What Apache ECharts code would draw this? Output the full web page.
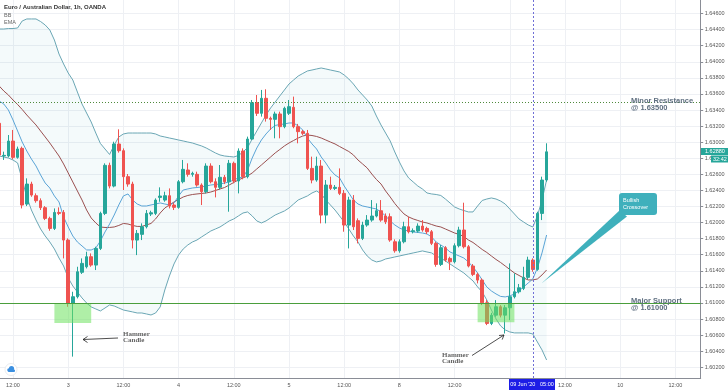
<!DOCTYPE html>
<html><head><meta charset="utf-8">
<script src="https://cdn.jsdelivr.net/npm/echarts/dist/echarts.min.js"></script>
<style>html,body{margin:0;padding:0;background:#fff}#c{width:728px;height:391px}</style>
</head><body><div id="c"></div>
<script>
// ---- data (hourly candles, EUR/AUD, OANDA) ----
const open = [
1.63235,1.62828,1.62828,1.63014,1.62811,1.62923,1.62230,1.62479,1.62334,1.62272,
1.62185,1.62052,1.61927,1.62126,1.62126,1.61782,1.60994,1.61077,1.61381,1.61450,
1.61575,1.61471,1.61678,1.62114,1.62712,1.62454,1.62977,1.62894,1.62571,1.62479,
1.61782,1.61853,1.61948,1.62106,1.62114,1.62313,1.62280,1.62334,1.62218,1.62189,
1.62508,1.62654,1.62600,1.62600,1.62467,1.62384,1.62703,1.62508,1.62438,1.62563,
1.62508,1.62737,1.62517,1.62890,1.62571,1.63039,1.63492,1.63359,1.63546,1.63297,
1.63284,1.63351,1.63193,1.63359,1.63434,1.63193,1.63131,1.63110,1.62674,1.62529,
1.62703,1.62093,1.62467,1.62425,1.62438,1.62363,1.61969,1.62280,1.62023,1.61803,
1.61969,1.62031,1.62081,1.62147,1.62081,1.62073,1.61761,1.61649,1.61761,1.61948,
1.61886,1.61894,1.61956,1.61927,1.61886,1.61741,1.61479,1.61687,1.61554,1.61512,
1.61712,1.61907,1.61699,1.61459,1.61355,1.61284,1.61002,1.60745,1.60848,1.60952,
1.60848,1.60940,1.61077,1.61139,1.61181,1.61318,1.61533,1.61417,1.62114,1.62529];
const close = [
1.62840,1.62836,1.63014,1.62811,1.62915,1.62218,1.62479,1.62342,1.62272,1.62185,
1.62052,1.61927,1.62126,1.62114,1.61782,1.60994,1.61077,1.61388,1.61492,1.61575,
1.61471,1.61678,1.62114,1.62712,1.62454,1.62977,1.62894,1.62571,1.62479,1.61782,
1.61865,1.61948,1.62114,1.62122,1.62280,1.62330,1.62334,1.62205,1.62189,1.62508,
1.62662,1.62600,1.62612,1.62467,1.62384,1.62703,1.62508,1.62438,1.62563,1.62508,
1.62737,1.62517,1.62890,1.62571,1.63039,1.63492,1.63359,1.63546,1.63297,1.63284,
1.63351,1.63193,1.63421,1.63442,1.63193,1.63131,1.63110,1.62674,1.62529,1.62703,
1.62093,1.62467,1.62425,1.62438,1.62363,1.61969,1.62280,1.61948,1.61803,1.61969,
1.62031,1.62081,1.62147,1.62031,1.62010,1.61782,1.61649,1.61761,1.61948,1.61886,
1.61899,1.61956,1.61907,1.61886,1.61741,1.61479,1.61687,1.61533,1.61512,1.61712,
1.61907,1.61699,1.61459,1.61355,1.61284,1.61002,1.60745,1.60848,1.60952,1.60848,
1.60940,1.61077,1.61139,1.61189,1.61318,1.61533,1.61417,1.62114,1.62529,1.62880];
const low = [
1.62811,1.62779,1.62811,1.62787,1.62795,1.62176,1.62205,1.62321,1.62247,1.62156,
1.62031,1.61898,1.61907,1.62093,1.61554,1.60952,1.60332,1.61056,1.61360,1.61429,
1.61450,1.61409,1.61658,1.62093,1.62425,1.62438,1.62870,1.62405,1.62446,1.61678,
1.61595,1.61782,1.61927,1.62081,1.62093,1.62259,1.62259,1.62176,1.62156,1.62172,
1.62488,1.62571,1.62571,1.62446,1.62218,1.62363,1.62488,1.62313,1.62413,1.62479,
1.62135,1.62488,1.62363,1.62538,1.62550,1.63027,1.63326,1.63318,1.63256,1.63152,
1.63048,1.63048,1.63173,1.63338,1.63173,1.62986,1.63089,1.62654,1.62488,1.62508,
1.61990,1.61990,1.62405,1.62405,1.62342,1.61886,1.61678,1.61907,1.61741,1.61782,
1.61948,1.62010,1.62064,1.62010,1.61981,1.61761,1.61625,1.61625,1.61741,1.61865,
1.61865,1.61874,1.61886,1.61857,1.61720,1.61450,1.61459,1.61512,1.61409,1.61492,
1.61691,1.61678,1.61442,1.61334,1.61243,1.60973,1.60724,1.60724,1.60828,1.60820,
1.60620,1.60786,1.61056,1.61118,1.61160,1.61293,1.61388,1.61400,1.62031,1.62508];
const high = [
1.63318,1.62882,1.63089,1.63152,1.62945,1.62945,1.62550,1.62508,1.62363,1.62301,
1.62205,1.62073,1.62176,1.62189,1.62156,1.61803,1.61139,1.61450,1.61554,1.61637,
1.61616,1.61699,1.62135,1.62737,1.62745,1.63006,1.63160,1.62923,1.62604,1.62508,
1.61907,1.61990,1.62156,1.62147,1.62301,1.62438,1.62384,1.62425,1.62247,1.62529,
1.62779,1.62737,1.62633,1.62633,1.62488,1.62737,1.62737,1.62550,1.62716,1.62592,
1.62779,1.62758,1.62923,1.62923,1.63069,1.63525,1.63587,1.63650,1.63658,1.63318,
1.63380,1.63380,1.63442,1.63525,1.63567,1.63227,1.63152,1.63152,1.62820,1.62820,
1.62778,1.62529,1.62571,1.62467,1.62674,1.62405,1.62321,1.62342,1.62052,1.62010,
1.62093,1.62280,1.62239,1.62280,1.62114,1.62114,1.61791,1.61791,1.62010,1.62073,
1.61927,1.61990,1.62031,1.61948,1.61907,1.61761,1.61720,1.61707,1.61575,1.61741,
1.61948,1.62247,1.61720,1.61484,1.61376,1.61305,1.61035,1.60877,1.61035,1.60973,
1.60973,1.61492,1.61368,1.61236,1.61450,1.61575,1.61554,1.62135,1.62571,1.62986];
const bbUpper = [
1.64408,1.64408,1.64414,1.64414,1.64421,1.64508,1.64533,1.64533,1.64533,1.64501,
1.64458,1.64396,1.64271,1.64097,1.63973,1.63861,1.63774,1.63624,1.63475,1.63363,
1.63251,1.63114,1.62984,1.62915,1.62847,1.62965,1.63065,1.63102,1.63114,1.63114,
1.63114,1.63114,1.63114,1.63114,1.63102,1.63077,1.63065,1.63052,1.63040,1.63027,
1.63015,1.63002,1.62990,1.62971,1.62953,1.62928,1.62897,1.62866,1.62841,1.62828,
1.62822,1.62816,1.62834,1.62878,1.62934,1.63040,1.63139,1.63239,1.63338,1.63425,
1.63500,1.63575,1.63649,1.63724,1.63774,1.63823,1.63855,1.63886,1.63898,1.63911,
1.63923,1.63911,1.63898,1.63886,1.63873,1.63836,1.63786,1.63724,1.63649,1.63587,
1.63525,1.63450,1.63326,1.63214,1.63114,1.63015,1.62878,1.62754,1.62642,1.62555,
1.62505,1.62455,1.62418,1.62368,1.62356,1.62349,1.62337,1.62293,1.62244,1.62194,
1.62169,1.62150,1.62132,1.62132,1.62206,1.62275,1.62293,1.62306,1.62293,1.62268,
1.62231,1.62169,1.62107,1.62045,1.62007,1.61970,1.61945,1.62082,1.62281,1.62530];
const bbLower = [
1.62828,1.62816,1.62803,1.62778,1.62741,1.62530,1.62318,1.62156,1.62032,1.61920,
1.61833,1.61758,1.61671,1.61559,1.61460,1.61311,1.61211,1.61136,1.61062,1.60999,
1.60950,1.60925,1.60900,1.60937,1.60975,1.60962,1.60937,1.60912,1.60900,1.60888,
1.60875,1.60875,1.60863,1.60850,1.60875,1.60950,1.61161,1.61335,1.61485,1.61597,
1.61671,1.61721,1.61758,1.61783,1.61821,1.61858,1.61895,1.61920,1.61945,1.61982,
1.62020,1.62045,1.62082,1.62119,1.62132,1.62082,1.62020,1.61995,1.62020,1.62057,
1.62094,1.62119,1.62144,1.62181,1.62231,1.62281,1.62306,1.62331,1.62368,1.62393,
1.62356,1.62281,1.62219,1.62156,1.62082,1.62007,1.61920,1.61833,1.61758,1.61659,
1.61584,1.61534,1.61510,1.61522,1.61547,1.61559,1.61572,1.61584,1.61597,1.61609,
1.61622,1.61634,1.61647,1.61634,1.61622,1.61584,1.61559,1.61522,1.61485,1.61447,
1.61410,1.61373,1.61323,1.61274,1.61199,1.61136,1.61037,1.60912,1.60801,1.60714,
1.60664,1.60639,1.60627,1.60627,1.60627,1.60627,1.60614,1.60514,1.60415,1.60290];
const bbBasis = [
1.63699,1.63637,1.63587,1.63525,1.63469,1.63407,1.63338,1.63276,1.63214,1.63139,
1.63065,1.62990,1.62909,1.62828,1.62729,1.62617,1.62505,1.62393,1.62281,1.62156,
1.62057,1.61995,1.61945,1.61939,1.61939,1.61945,1.61964,1.61989,1.61982,1.61964,
1.61952,1.61952,1.61970,1.61989,1.62045,1.62119,1.62181,1.62219,1.62256,1.62287,
1.62318,1.62337,1.62349,1.62356,1.62362,1.62368,1.62380,1.62399,1.62418,1.62436,
1.62467,1.62499,1.62530,1.62555,1.62580,1.62617,1.62667,1.62716,1.62766,1.62816,
1.62866,1.62909,1.62953,1.62990,1.63021,1.63052,1.63077,1.63089,1.63083,1.63071,
1.63052,1.63027,1.63002,1.62978,1.62946,1.62915,1.62884,1.62841,1.62778,1.62729,
1.62679,1.62604,1.62536,1.62480,1.62393,1.62318,1.62237,1.62169,1.62107,1.62070,
1.62045,1.62026,1.62007,1.61995,1.61976,1.61957,1.61945,1.61920,1.61895,1.61870,
1.61852,1.61827,1.61783,1.61752,1.61709,1.61665,1.61628,1.61584,1.61541,1.61503,
1.61460,1.61416,1.61373,1.61342,1.61311,1.61286,1.61286,1.61298,1.61348,1.61410];
const ema = [
1.63512,1.63475,1.63400,1.63276,1.63139,1.63002,1.62890,1.62791,1.62704,1.62592,
1.62492,1.62430,1.62331,1.62256,1.62069,1.61945,1.61833,1.61758,1.61709,1.61659,
1.61659,1.61684,1.61771,1.61883,1.61982,1.62094,1.62219,1.62331,1.62356,1.62281,
1.62231,1.62206,1.62206,1.62219,1.62231,1.62244,1.62231,1.62219,1.62244,1.62331,
1.62405,1.62418,1.62430,1.62436,1.62443,1.62455,1.62467,1.62474,1.62480,1.62492,
1.62505,1.62530,1.62555,1.62567,1.62654,1.62803,1.62928,1.63027,1.63102,1.63164,
1.63208,1.63220,1.63226,1.63239,1.63239,1.63201,1.63152,1.63052,1.62978,1.62915,
1.62816,1.62741,1.62654,1.62592,1.62555,1.62455,1.62368,1.62281,1.62231,1.62206,
1.62194,1.62181,1.62169,1.62132,1.62082,1.62020,1.61970,1.61933,1.61908,1.61895,
1.61883,1.61877,1.61870,1.61858,1.61821,1.61758,1.61721,1.61684,1.61634,1.61609,
1.61584,1.61559,1.61510,1.61447,1.61373,1.61286,1.61199,1.61149,1.61112,1.61081,
1.61075,1.61087,1.61112,1.61149,1.61199,1.61248,1.61298,1.61435,1.61622,1.61845];

const yTicks = [1.602,1.604,1.606,1.608,1.610,1.612,1.614,1.616,1.618,1.620,1.622,1.624,1.626,1.628,1.630,1.632,1.634,1.636,1.638,1.640,1.642,1.644,1.646];
const xTickLabels = {3:'12:00',15:'3',27:'12:00',39:'4',51:'12:00',63:'5',75:'12:00',87:'8',99:'12:00',123:'12:00',135:'10',147:'12:00'};
const xGridIdx = [3,15,27,39,51,63,75,87,99,111,123,135,147];
const minorResistance = 1.635;
const majorSupport = 1.610;
const hammerBoxes = [[12,20,1.6100,1.6075],[104,112,1.6100,1.6076]]; // [fromIdx,toIdx,top,bottom]
const crossIdx = 116;
const yMin = 1.60066, yMax = 1.64769;
const lastPrice = '1.62880', timer = '32:42';

// categories: hourly bars from 2 Jun 2020 09:00 (weekend gap skipped)
const cats = [];
const t0 = Date.UTC(2020,5,2,9);
for (let j=0;j<153;j++){ const h = j<=83 ? j : j+48; cats.push(new Date(t0+h*3600e3).toISOString().slice(5,16).replace('T',' ')); }
const candles = open.map((o,k)=>[o, close[k], low[k], high[k]]);
const bandWidth = bbUpper.map((u,k)=>+(u-bbLower[k]).toFixed(5));

const UP='#26a69a', DOWN='#ef5350', BAND='#6aa6b4';
const chart = echarts.init(document.getElementById('c'), null, {renderer:'canvas'});
const FF = 'Liberation Sans, Arial, sans-serif';
chart.setOption({
  animation:false,
  backgroundColor:'#ffffff',
  textStyle:{fontFamily:FF},
  grid:{left:-3.1, right:27.3, top:0, bottom:13, outerBoundsMode:'none'},
  xAxis:{type:'category', data:cats, boundaryGap:true,
    axisLine:{show:true, lineStyle:{color:'#8a8d96', width:1}},
    axisTick:{show:false},
    axisLabel:{interval:(idx)=>!!xTickLabels[idx], formatter:(v,idx)=>xTickLabels[idx]||'', color:'#555', fontSize:5.5, margin:4},
    splitLine:{show:false}},
  yAxis:{type:'value', position:'right', min:yMin, max:yMax,
    axisLine:{show:true, lineStyle:{color:'#8a8d96'}},
    axisTick:{show:true, length:2.5, customValues:yTicks, lineStyle:{color:'#8a8d96'}},
    axisLabel:{customValues:yTicks, formatter:v=>v.toFixed(5), color:'#555', fontSize:5.5, margin:4},
    splitLine:{show:true, lineStyle:{color:'#eef0f4'}}},
  series:[
    {type:'line', name:'bbLower', data:bbLower, stack:'bb', symbol:'none', z:1,
      lineStyle:{color:BAND, width:1},
      markLine:{silent:true, symbol:'none', z:0, label:{show:false}, lineStyle:{color:'#eef0f4', type:'solid', width:1},
        data:xGridIdx.map(j=>({xAxis:cats[j]}))}},
    {type:'line', name:'bbFill', data:bandWidth, stack:'bb', symbol:'none', z:1,
      lineStyle:{color:BAND, width:1}, areaStyle:{color:'rgba(60,160,180,0.08)'}},
    {type:'line', name:'basis', data:bbBasis, symbol:'none', z:2, lineStyle:{color:'#9a5050', width:1}},
    {type:'line', name:'ema', data:ema, symbol:'none', z:2, lineStyle:{color:'#5aa4d6', width:1}},
    {type:'candlestick', name:'EURAUD', data:candles, barWidth:3, z:3,
      itemStyle:{color:UP, color0:DOWN, borderColor:UP, borderColor0:DOWN, borderColorDoji:UP, borderWidth:1},
      markArea:{silent:true, z:10, itemStyle:{color:'rgba(110,225,95,0.55)'},
        data:hammerBoxes.map(b=>[{xAxis:cats[b[0]], yAxis:b[2]},{xAxis:cats[b[1]], yAxis:b[3]}])}}
  ]
});

// annotation layer, anchored to the chart's own scales
const yRes = chart.convertToPixel({yAxisIndex:0}, minorResistance);
const ySup = chart.convertToPixel({yAxisIndex:0}, majorSupport);
const xCross = chart.convertToPixel({xAxisIndex:0}, cats[crossIdx]);
const plotRight = chart.convertToPixel({xAxisIndex:0}, cats[cats.length-1]) + 2.3;
const plotBottom = chart.convertToPixel({yAxisIndex:0}, yMin);
chart.setOption({graphic:{elements:[
    {type:'line', z:30, shape:{x1:0, y1:Math.round(yRes)+0.5, x2:plotRight, y2:Math.round(yRes)+0.5}, style:{stroke:'#4f8a3c', lineWidth:1, lineDash:[1,2]}},
    {type:'rect', z:30, shape:{x:0, y:Math.round(ySup), width:plotRight, height:1}, style:{fill:'#4a9e3c'}},
    {type:'line', z:30, shape:{x1:Math.round(xCross)+0.5, y1:0, x2:Math.round(xCross)+0.5, y2:plotBottom}, style:{stroke:'#6f6fd6', lineWidth:1, lineDash:[2,2]}},
    {type:'text', z:20, style:{x:4, y:7.5, text:'Euro / Australian Dollar, 1h, OANDA', fill:'#333', fontSize:6, fontWeight:'bold', fontFamily:FF, verticalAlign:'middle'}},
    {type:'text', z:20, style:{x:4, y:15, text:'BB', fill:'#666', fontSize:5.5, fontFamily:FF, verticalAlign:'middle'}},
    {type:'text', z:20, style:{x:4, y:22.5, text:'EMA', fill:'#666', fontSize:5.5, fontFamily:FF, verticalAlign:'middle'}},
    {type:'text', z:31, style:{x:631, y:yRes-5, text:'Minor Resistance\n@ 1.63500', fill:'#5f6f80', fontSize:7.5, fontWeight:'bold', fontFamily:FF, lineHeight:7.5}},
    {type:'text', z:31, style:{x:631, y:ySup-6, text:'Major Support\n@ 1.61000', fill:'#5f6f80', fontSize:7.5, fontWeight:'bold', fontFamily:FF, lineHeight:7.5}},
    {type:'text', z:20, style:{x:123, y:331, text:'Hammer\nCandle', fill:'#666', fontSize:7, fontWeight:'bold', fontFamily:'Liberation Serif, serif', lineHeight:6}},
    {type:'text', z:20, style:{x:442, y:352, text:'Hammer\nCandle', fill:'#666', fontSize:7, fontWeight:'bold', fontFamily:'Liberation Serif, serif', lineHeight:6}},
    {type:'line', z:20, shape:{x1:118, y1:338, x2:83, y2:339.5}, style:{stroke:'#222', lineWidth:0.8}},
    {type:'polyline', z:20, shape:{points:[[87.5,336.5],[83,339.5],[87.5,342.5]]}, style:{stroke:'#222', lineWidth:0.8, fill:null}},
    {type:'line', z:20, shape:{x1:472, y1:355.5, x2:504, y2:335}, style:{stroke:'#222', lineWidth:0.8}},
    {type:'polyline', z:20, shape:{points:[[499,335.5],[504,335],[502.2,339.6]]}, style:{stroke:'#222', lineWidth:0.8, fill:null}},
    {type:'polygon', z:20, shape:{points:[[541.7,283.3],[619.5,210.5],[627,216.5]]}, style:{fill:'#3fb0bc'}},
    {type:'rect', z:21, shape:{x:619, y:193, width:38, height:22, r:3}, style:{fill:'#3fb0bc'}},
    {type:'text', z:22, style:{x:623, y:196.5, text:'Bullish\nCrossover', fill:'#ffffff', fontSize:5.5, fontFamily:FF, lineHeight:7}},
    {type:'rect', z:31, shape:{x:509, y:379, width:46, height:11}, style:{fill:'#1d1de6'}},
    {type:'text', z:32, style:{x:532, y:384.5, text:"09 Jun '20   05:00", fill:'#ffffff', fontSize:5.5, fontFamily:FF, align:'center', verticalAlign:'middle'}},
    {type:'rect', z:21, shape:{x:701, y:148, width:27, height:7}, style:{fill:UP}},
    {type:'text', z:22, style:{x:705, y:151.5, text:lastPrice, fill:'#ffffff', fontSize:5.5, fontFamily:FF, verticalAlign:'middle'}},
    {type:'rect', z:21, shape:{x:711, y:155.5, width:17, height:7}, style:{fill:UP}},
    {type:'text', z:22, style:{x:713, y:159, text:timer, fill:'#ffffff', fontSize:5.5, fontFamily:FF, verticalAlign:'middle'}},
    {type:'circle', z:20, shape:{cx:11, cy:369.5, r:6}, style:{fill:'#ffffff', stroke:'#e3e6ea', lineWidth:0.8}},
    {type:'circle', z:21, shape:{cx:11.5, cy:368.5, r:2.6}, style:{fill:'#3b8fe0'}},
    {type:'circle', z:21, shape:{cx:9, cy:370, r:1.8}, style:{fill:'#3b8fe0'}},
    {type:'rect', z:21, shape:{x:8, y:369.5, width:7, height:2.4, r:1}, style:{fill:'#3b8fe0'}}
]}});
</script></body></html>
